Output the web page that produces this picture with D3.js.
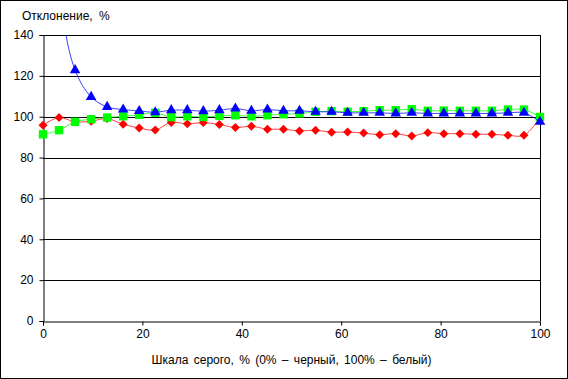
<!DOCTYPE html>
<html>
<head>
<meta charset="utf-8">
<script src="https://cdn.jsdelivr.net/npm/d3@7"></script>
<style>
  body { margin: 0; background: #fff; }
  svg { display: block; font-family: Arial, "Liberation Sans", sans-serif; }
</style>
</head>
<body>
<svg id="chart" width="568" height="379"></svg>
<script>
// grey scale steps, % (0% black .. 100% white)
const steps = d3.range(32).map(i => i * 100 / 31);

const redValues = [95.8, 99.6, 97.5, 97.8, 99.1, 96.3, 94.5, 93.5, 97.2, 96.5,
  97.1, 96.2, 94.7, 95.3, 93.9, 93.9, 93.0, 93.4, 92.4, 92.5,
  92.0, 91.2, 91.7, 90.6, 92.2, 91.7, 91.7, 91.4, 91.4, 90.9,
  90.9, 99.5];
const greenValues = [91.4, 93.4, 97.5, 98.8, 99.6, 100.2, 100.9, 101.9, 99.8, 100.2,
  99.9, 100.4, 100.7, 100.2, 100.7, 101.2, 101.6, 102.4, 102.7, 102.4,
  102.7, 103.2, 103.2, 103.7, 102.9, 103.0, 102.9, 102.9, 102.9, 103.5,
  103.5, 99.9];
const blueValues = [200, 158, 122.8, 109.7, 104.8, 103.5, 102.8, 102.2, 103.2, 103.2,
  102.7, 103.2, 104.0, 102.9, 103.5, 102.9, 102.9, 102.4, 102.4, 101.9,
  101.9, 101.9, 101.6, 101.9, 101.6, 101.6, 101.6, 101.6, 101.6, 101.9,
  101.9, 97.5];

const xTicks = [0, 20, 40, 60, 80, 100];
const yTicks = [0, 20, 40, 60, 80, 100, 120, 140];

const width = 568, height = 379;
const margin = { left: 43, right: 28, top: 35, bottom: 58 };

const svg = d3.select("#chart");

// outer frame
svg.append("rect")
  .attr("x", 0.5).attr("y", 0.5)
  .attr("width", width - 1).attr("height", height - 1)
  .attr("fill", "#fff").attr("stroke", "#000");

const x = d3.scaleLinear().domain([0, 100]).range([margin.left, width - margin.right]);
const y = d3.scaleLinear().domain([0, 140]).range([height - margin.bottom, margin.top]);

svg.append("clipPath").attr("id", "plot")
  .append("rect")
  .attr("x", x(0) - 6).attr("y", y(140))
  .attr("width", x(100) - x(0) + 12).attr("height", y(0) - y(140) + 6);

// gridlines
svg.append("g")
  .selectAll("line")
  .data(yTicks.filter(d => d > 0))
  .enter()
  .append("line")
  .attr("x1", x(0)).attr("x2", x(100))
  .attr("y1", d => Math.round(y(d)) + 0.5).attr("y2", d => Math.round(y(d)) + 0.5)
  .attr("stroke", "#000");

// right edge of plot area
svg.append("line")
  .attr("x1", Math.round(x(100)) + 0.5).attr("x2", Math.round(x(100)) + 0.5)
  .attr("y1", y(140)).attr("y2", y(0))
  .attr("stroke", "#000");

// axes
const yAxis = svg.append("g")
  .attr("transform", "translate(" + (Math.round(x(0)) + 0.5) + ",0)")
  .call(d3.axisLeft(y).tickValues(yTicks).tickSize(4).tickPadding(6));
const xAxis = svg.append("g")
  .attr("transform", "translate(0," + (Math.round(y(0)) + 0.5) + ")")
  .call(d3.axisBottom(x).tickValues(xTicks).tickSize(4).tickPadding(4));

[xAxis, yAxis].forEach(a => {
  a.select(".domain").attr("stroke", "#000");
  a.selectAll(".tick line").attr("stroke", "#000");
  a.selectAll("text")
    .attr("fill", "#000")
    .style("font-size", "12px")
    .style("font-family", "Arial, 'Liberation Sans', sans-serif");
});

const series = [
  { name: "red", values: redValues, color: "#ff0000", marker: d3.symbolSquare, size: 40, rotate: 45 },
  { name: "green", values: greenValues, color: "#00ff00", marker: d3.symbolSquare, size: 70, rotate: 0 },
  { name: "blue", values: blueValues, color: "#0000ff", marker: d3.symbolTriangle, size: 48, rotate: 0 }
];

const line = d3.line()
  .x((d, i) => x(steps[i]))
  .y(d => y(d))
  .curve(d3.curveCatmullRom.alpha(0.5));

const plot = svg.append("g").attr("clip-path", "url(#plot)");

series.forEach(s => {
  plot.append("path")
    .datum(s.values)
    .attr("d", line)
    .attr("fill", "none")
    .attr("stroke", s.color)
    .attr("stroke-opacity", 0.75)
    .attr("stroke-width", 1);

  plot.selectAll(".m-" + s.name)
    .data(s.values)
    .enter()
    .append("path")
    .attr("class", "m-" + s.name)
    .attr("d", d3.symbol().type(s.marker).size(s.size))
    .attr("transform", (d, i) => "translate(" + x(steps[i]) + "," + y(d) + ") rotate(" + s.rotate + ")")
    .attr("fill", s.color);
});

// titles
svg.append("text")
  .attr("x", 22).attr("y", 20)
  .style("font-size", "12px")
  .style("word-spacing", "3px")
  .text("Отклонение, %");

svg.append("text")
  .attr("x", (x(0) + x(100)) / 2).attr("y", 364)
  .attr("text-anchor", "middle")
  .style("font-size", "12px")
  .style("word-spacing", "2px")
  .text("Шкала серого, % (0% – черный, 100% – белый)");
</script>
</body>
</html>
